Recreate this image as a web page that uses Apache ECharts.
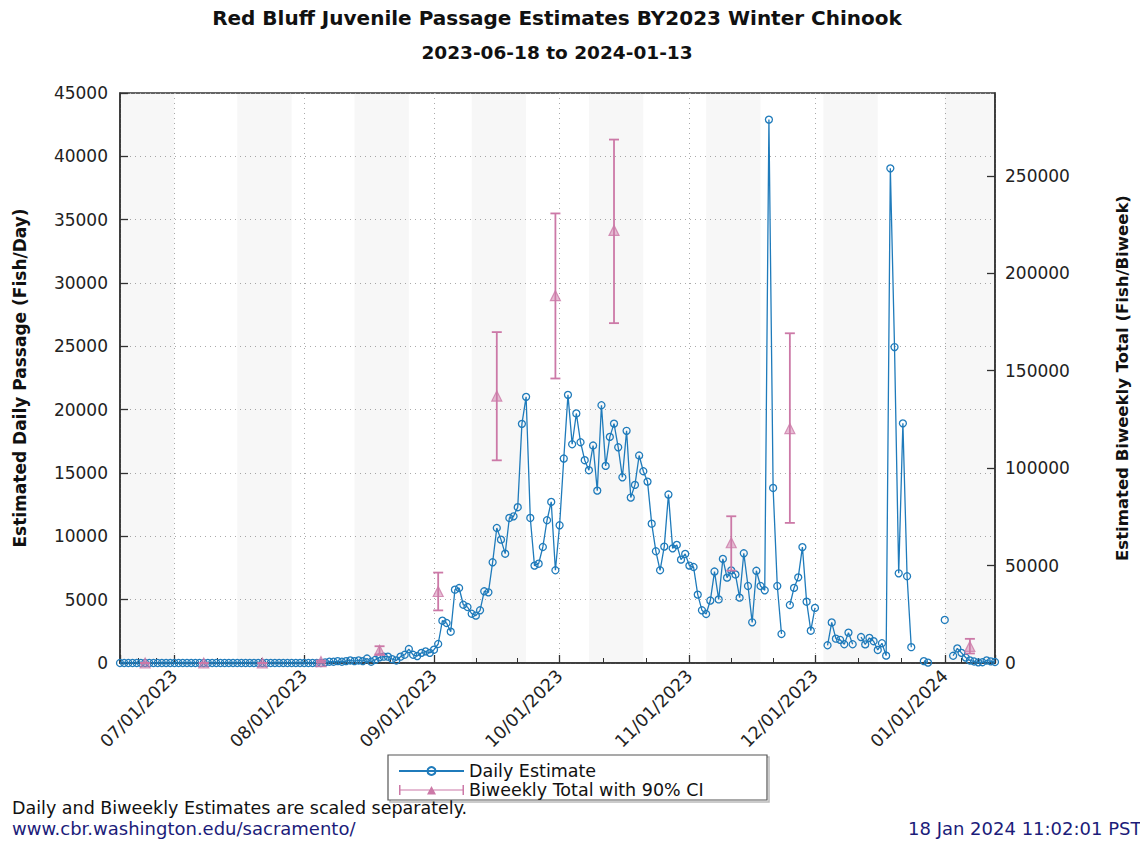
<!DOCTYPE html>
<html><head><meta charset="utf-8">
<script src="https://cdn.jsdelivr.net/npm/echarts@6/dist/echarts.min.js"></script>
<style>html,body{margin:0;padding:0;background:#fff}#c{width:1140px;height:842px}</style>
</head><body><div id="c"></div>
<script>
const chartTitle = 'Red Bluff Juvenile Passage Estimates BY2023 Winter Chinook';
const chartSubtitle = '2023-06-18 to 2024-01-13';
const firstDay = '2023-06-18';
const lastDay = '2024-01-13';
// daily estimates, one per day starting 2023-06-18 (null = no estimate)
const dailyValues = [
  0,0,0,0,0,0,0,0,0,0, 0,0,0,0,0,0,0,0,0,0, 0,0,0,0,0,0,0,0,0,0,
  0,0,0,0,0,0,0,0,0,0, 0,0,0,0,0,0,0,0,0,
  50,100,100,150,100,150,200,150,200,150,350,100,250,450,500,500,300,200,500,650,1100,650,550,800,920,800,1050,
  1500,3340,3160,2470,5790,5920,4600,4420,3890,3740,4160,5660,5580,7950,10660,9740,8630,11450,11580,12300,
  18880,21010,11450,7690,7840,9160,11270,12720,7320,10870,16140,21170,17270,19700,17430,16010,15220,17170,13610,20350,
  15560,17850,18900,17030,14660,18330,13060,14060,16380,15140,14320,11000,8820,7320,9190,13300,9050,9320,8160,8610,
  7690,7580,5400,4160,
  3870,4930,7220,5020,8220,6740,7310,6990,5160,8660,6080,3210,7280,6080,5740,42900,13820,6080,2290,null,
  4580,5930,6760,9150,4840,2550,4350,null,null,1400,3200,1920,1830,1480,2400,1480,null,2050,1470,1980,
  1720,1030,1560,580,39050,24940,7080,18920,6850,1250,null,null,150,30,null,null,null,3400,null,570,
  1150,800,430,200,120,50,60,200,130,80
];
const biweekDates = ['2023-06-24','2023-07-08','2023-07-22','2023-08-05','2023-08-19','2023-09-02','2023-09-16','2023-09-30','2023-10-14','2023-11-11','2023-11-25','2024-01-07'];
const biweekTotals = [0,0,0,700,6500,36700,137000,188500,222000,61700,120300,8500];
const biweekLow    = [0,0,0,300,4400,27000,104000,146000,174400,47400,71900,4900];
const biweekHigh   = [0,0,0,1300,8600,46400,169800,230700,268600,75300,169200,12400];
const shadedStarts = ['2023-06-18','2023-07-16','2023-08-13','2023-09-10','2023-10-08','2023-11-05','2023-12-03','2024-01-01'];
const shadedEnds   = ['2023-07-01','2023-07-29','2023-08-26','2023-09-23','2023-10-21','2023-11-18','2023-12-16','2024-01-13'];
const leftAxis = {min: 0, max: 45000, step: 5000};
const rightAxis = {min: 0, max: 292500, step: 50000};
const footNote = 'Daily and Biweekly Estimates are scaled separately.';
const footUrl = 'www.cbr.washington.edu/sacramento/';
const footStamp = '18 Jan 2024 11:02:01 PST';

function ts(s){ const p = s.split('-').map(Number); return new Date(p[0], p[1]-1, p[2]).getTime(); }
const d0 = ts(firstDay);
const dailyData = dailyValues.map((v, i) => {
  const d = new Date(d0); d.setDate(d.getDate() + i);
  return [d.getTime(), v];
});
const biweekPoints = biweekDates.map((s, i) => [ts(s), biweekTotals[i]]);
const biweekBars = biweekDates.map((s, i) => [ts(s), biweekLow[i], biweekHigh[i]]);
const shaded = shadedStarts.map((s, i) => [{xAxis: ts(s)}, {xAxis: ts(shadedEnds[i])}]);

const FONT = 'DejaVu Sans';
const BLUE = '#1f7bbb';
const PINK = '#cc79a7';
const AX = '#333';
const pad = n => (n < 10 ? '0' : '') + n;
const plain = v => String(v);

const chart = echarts.init(document.getElementById('c'), null, {renderer: 'svg'});
chart.setOption({
  animation: false,
  backgroundColor: '#fff',
  textStyle: {fontFamily: FONT},
  grid: {left: 120, right: 145, top: 93, bottom: 179, show: true, borderColor: AX, borderWidth: 1.5, backgroundColor: 'transparent'},
  legend: {
    orient: 'vertical', left: 393, top: 757, itemWidth: 65, itemHeight: 10, itemGap: 1,
    selectedMode: false,
    textStyle: {fontSize: 17.5, color: '#111', fontFamily: FONT},
    data: [
      {name: 'Daily Estimate'},
      {name: 'Biweekly Total with 90% CI', icon: 'path://M0,0h1.5v10h-1.5z M0,4.4h65v1.2h-65z M63.5,0h1.5v10h-1.5z M28,9.5L32.5,1L37,9.5z'}
    ]
  },
  xAxis: {
    type: 'time', min: ts(firstDay), max: ts(lastDay), splitNumber: 7,
    axisLine: {show: true, lineStyle: {color: AX, width: 1.5}},
    axisTick: {show: true, inside: true, length: 8, lineStyle: {color: AX, width: 1.3}},
    minorTick: {show: true, splitNumber: 3, length: 5, lineStyle: {color: AX, width: 1}},
    axisLabel: {
      rotate: 45, fontSize: 17.5, color: '#222', margin: 10, fontFamily: FONT,
      showMinLabel: false, showMaxLabel: false,
      formatter: function (v) {
        const d = new Date(v);
        if (d.getDate() !== 1) return '';
        return pad(d.getMonth() + 1) + '/' + pad(d.getDate()) + '/' + d.getFullYear();
      }
    },
    splitLine: {show: true, lineStyle: {type: [1, 4], color: '#aaa', width: 1}}
  },
  yAxis: [
    {
      type: 'value', position: 'left', min: leftAxis.min, max: leftAxis.max, interval: leftAxis.step,
      name: 'Estimated Daily Passage (Fish/Day)', nameLocation: 'middle', nameGap: 92,
      nameTextStyle: {fontWeight: 'bold', fontSize: 17, color: '#111', fontFamily: FONT},
      axisLine: {show: true, lineStyle: {color: AX, width: 1.5}},
      axisTick: {show: true, inside: true, length: 8, lineStyle: {color: AX, width: 1.3}},
      axisLabel: {fontSize: 17, color: '#222', margin: 12, fontFamily: FONT, formatter: plain},
      splitLine: {show: true, lineStyle: {type: [1, 4], color: '#aaa', width: 1}}
    },
    {
      type: 'value', position: 'right', min: rightAxis.min, max: rightAxis.max, interval: rightAxis.step,
      name: 'Estimated Biweekly Total (Fish/Biweek)', nameLocation: 'middle', nameGap: 119,
      nameTextStyle: {fontWeight: 'bold', fontSize: 16.5, color: '#111', fontFamily: FONT},
      axisLine: {show: true, lineStyle: {color: AX, width: 1.5}},
      axisTick: {show: true, inside: true, length: 8, lineStyle: {color: AX, width: 1.3}},
      axisLabel: {fontSize: 17, color: '#222', margin: 10, fontFamily: FONT, showMaxLabel: false, formatter: plain},
      splitLine: {show: false}
    }
  ],
  series: [
    {
      name: 'shading', type: 'line', data: [], z: 1, silent: true,
      markArea: {silent: true, itemStyle: {color: 'rgba(0,0,0,0.032)'}, data: shaded}
    },
    {
      name: 'Daily Estimate', type: 'line', yAxisIndex: 0, data: dailyData, z: 3,
      symbol: 'circle', symbolSize: 7, showAllSymbol: true, connectNulls: false,
      lineStyle: {color: BLUE, width: 1.3},
      itemStyle: {color: 'rgba(255,255,255,0)', borderColor: BLUE, borderWidth: 1.3}
    },
    {
      name: 'Biweekly Total with 90% CI', type: 'custom', yAxisIndex: 1, data: biweekBars, z: 4,
      itemStyle: {color: PINK},
      encode: {x: 0, y: [1, 2]},
      renderItem: function (params, api) {
        const lo = api.coord([api.value(0), api.value(1)]);
        const hi = api.coord([api.value(0), api.value(2)]);
        const hw = 5;
        const st = {stroke: PINK, lineWidth: 1.8};
        return {type: 'group', children: [
          {type: 'line', shape: {x1: lo[0], y1: lo[1], x2: hi[0], y2: hi[1]}, style: st},
          {type: 'line', shape: {x1: lo[0]-hw, y1: lo[1], x2: lo[0]+hw, y2: lo[1]}, style: st},
          {type: 'line', shape: {x1: hi[0]-hw, y1: hi[1], x2: hi[0]+hw, y2: hi[1]}, style: st}
        ]};
      }
    },
    {
      name: 'Biweekly Total with 90% CI', type: 'scatter', yAxisIndex: 1, data: biweekPoints, z: 5,
      symbol: 'triangle', symbolSize: 10,
      itemStyle: {color: 'rgba(204,121,167,0.6)', borderColor: PINK, borderWidth: 1.2}
    }
  ],
  graphic: [
    {type: 'text', x: 557, y: 18, style: {text: chartTitle, fill: '#111', font: 'bold 20px "DejaVu Sans"', align: 'center', verticalAlign: 'middle', textAlign: 'center', textVerticalAlign: 'middle'}},
    {type: 'text', x: 557, y: 52, style: {text: chartSubtitle, fill: '#111', font: 'bold 18.5px "DejaVu Sans"', align: 'center', verticalAlign: 'middle', textAlign: 'center', textVerticalAlign: 'middle'}},
    {type: 'rect', shape: {x: 390, y: 757, width: 379, height: 45}, style: {fill: 'none', stroke: '#bbb', lineWidth: 1.5}, z: 0},
    {type: 'rect', shape: {x: 388, y: 755, width: 379, height: 45}, style: {fill: '#fff', stroke: '#555', lineWidth: 1.2}, z: 1},
    {type: 'text', x: 12, y: 808, style: {text: footNote, fill: '#111', font: '17.5px "DejaVu Sans"', verticalAlign: 'middle', textVerticalAlign: 'middle'}},
    {type: 'text', x: 12, y: 828, style: {text: footUrl, fill: '#1c1c7a', font: '18px "DejaVu Sans"', verticalAlign: 'middle', textVerticalAlign: 'middle'}},
    {type: 'text', x: 908, y: 828, style: {text: footStamp, fill: '#1c1c7a', font: '18px "DejaVu Sans"', verticalAlign: 'middle', textVerticalAlign: 'middle'}}
  ]
});
</script>
</body></html>
